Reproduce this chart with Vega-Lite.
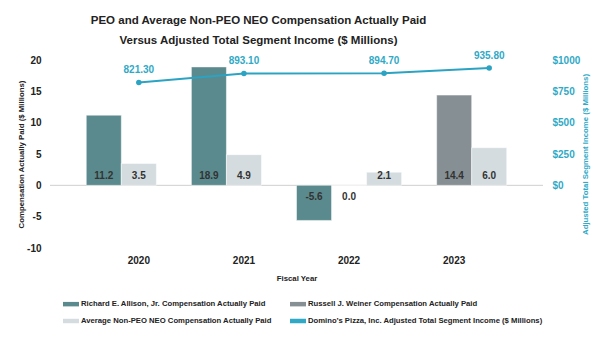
{
  "$schema": "https://vega.github.io/schema/vega-lite/v6.json",
  "width": 493,
  "height": 188,
  "autosize": {"type": "none"},
  "padding": {"left": 50, "top": 60, "right": 66, "bottom": 90},
  "background": "white",
  "title": {
    "text": ["PEO and Average Non-PEO NEO Compensation Actually Paid", "Versus Adjusted Total Segment Income ($ Millions)"],
    "font": "Liberation Sans Narrow, Liberation Sans",
    "fontSize": 11.5,
    "fontWeight": "bold",
    "color": "#222222",
    "anchor": "middle",
    "dx": -38,
    "offset": 5,
    "lineHeight": 20
  },
  "data": {
    "values": [
      {"year": "2020", "series": "Richard E. Allison, Jr. Compensation Actually Paid", "value": 11.2},
      {"year": "2020", "series": "Average Non-PEO NEO Compensation Actually Paid", "value": 3.5},
      {"year": "2020", "series": "Domino’s Pizza, Inc. Adjusted Total Segment Income ($ Millions)", "value": 821.3},
      {"year": "2021", "series": "Richard E. Allison, Jr. Compensation Actually Paid", "value": 18.9},
      {"year": "2021", "series": "Average Non-PEO NEO Compensation Actually Paid", "value": 4.9},
      {"year": "2021", "series": "Domino’s Pizza, Inc. Adjusted Total Segment Income ($ Millions)", "value": 893.1},
      {"year": "2022", "series": "Richard E. Allison, Jr. Compensation Actually Paid", "value": -5.6},
      {"year": "2022", "series": "Russell J. Weiner Compensation Actually Paid", "value": 0.0},
      {"year": "2022", "series": "Average Non-PEO NEO Compensation Actually Paid", "value": 2.1},
      {"year": "2022", "series": "Domino’s Pizza, Inc. Adjusted Total Segment Income ($ Millions)", "value": 894.7},
      {"year": "2023", "series": "Richard E. Allison, Jr. Compensation Actually Paid", "value": null},
      {"year": "2023", "series": "Russell J. Weiner Compensation Actually Paid", "value": 14.4},
      {"year": "2023", "series": "Average Non-PEO NEO Compensation Actually Paid", "value": 6.0},
      {"year": "2023", "series": "Domino’s Pizza, Inc. Adjusted Total Segment Income ($ Millions)", "value": 935.8}
    ]
  },
  "transform": [
    {"window": [{"op": "row_number", "as": "slot"}], "groupby": ["year"]},
    {"window": [{"op": "lag", "field": "slot", "as": "prevslot"}], "groupby": ["year"]}
  ],
  "layer": [
    {
      "layer": [
        {
          "data": {"values": [{}]},
          "mark": {"type": "rule", "color": "#cfcfcf", "strokeWidth": 1},
          "encoding": {"y": {"datum": 0, "type": "quantitative",
            "scale": {"domain": [-10, 20], "nice": false, "zero": false},
            "axis": {"title": "Compensation Actually Paid ($ Millions)", "values": [-10, -5, 0, 5, 10, 15, 20], "labelOverlap": false, "labelPadding": 9, "titlePadding": 1}}}
        },
        {
          "transform": [
            {"filter": {"field": "series", "oneOf": ["Richard E. Allison, Jr. Compensation Actually Paid", "Russell J. Weiner Compensation Actually Paid", "Average Non-PEO NEO Compensation Actually Paid"]}},
            {"filter": "isValid(datum.value)"}
          ],
          "mark": {"type": "bar", "stroke": "white", "strokeWidth": 0.5},
          "encoding": {
            "x": {"field": "year", "type": "nominal", "scale": {"paddingInner": 0, "paddingOuter": 0.345},
              "axis": {"title": "Fiscal Year", "labelAngle": 0, "labelPadding": 7, "titlePadding": 9}},
            "xOffset": {"field": "slot", "type": "ordinal", "scale": {"domain": [1, 2, 3], "paddingInner": 0, "paddingOuter": 0}},
            "y": {"field": "value", "type": "quantitative",
              "scale": {"domain": [-10, 20], "nice": false, "zero": false},
              "axis": {"title": "Compensation Actually Paid ($ Millions)", "values": [-10, -5, 0, 5, 10, 15, 20], "labelOverlap": false, "labelPadding": 9, "titlePadding": 1}},
            "color": {"field": "series", "type": "nominal",
              "scale": {
                "domain": ["Richard E. Allison, Jr. Compensation Actually Paid", "Average Non-PEO NEO Compensation Actually Paid", "Russell J. Weiner Compensation Actually Paid", "Domino’s Pizza, Inc. Adjusted Total Segment Income ($ Millions)"],
                "range": ["#5A8A8D", "#D4DCDF", "#868F93", "#2FA9C6"]
              },
              "legend": {
                "title": null,
                "orient": "none",
                "legendX": 13,
                "legendY": 236,
                "columns": 2,
                "columnPadding": 18,
                "rowPadding": 5,
                "labelFont": "Liberation Sans Narrow, Liberation Sans",
                "labelFontWeight": "bold",
                "labelFontSize": 7.7,
                "labelColor": "#222222",
                "labelLimit": 300,
                "labelOffset": 2,
                "symbolSize": 256,
                "symbolType": "M-1,-0.28H1V0.28H-1Z",
                "symbolStrokeWidth": 0,
                "encode": {
                  "symbols": {
                    "update": {
                      "shape": [
                        {"test": "indexof(datum.value, 'Pizza') >= 0", "value": "M-1,-0.09H1V0.09H-1Z M-0.32,0A0.32,0.32 0 1,1 0.32,0A0.32,0.32 0 1,1 -0.32,0Z"},
                        {"value": "M-1,-0.28H1V0.28H-1Z"}
                      ]
                    }
                  }
                }
              }
            }
          }
        },
        {
          "transform": [
            {"filter": {"field": "series", "oneOf": ["Richard E. Allison, Jr. Compensation Actually Paid", "Russell J. Weiner Compensation Actually Paid", "Average Non-PEO NEO Compensation Actually Paid"]}},
            {"filter": "isValid(datum.value) && datum.value > 0"}
          ],
          "mark": {"type": "text", "font": "Liberation Sans", "fontWeight": "bold", "fontSize": 10, "color": "#333333", "baseline": "middle", "dy": -9},
          "encoding": {
            "x": {"field": "year", "type": "nominal"},
            "xOffset": {"field": "slot", "type": "ordinal"},
            "y": {"datum": 0, "type": "quantitative",
              "axis": {"title": "Compensation Actually Paid ($ Millions)", "values": [-10, -5, 0, 5, 10, 15, 20], "labelOverlap": false, "labelPadding": 9, "titlePadding": 1}},
            "text": {"field": "value", "type": "quantitative", "format": ".1f"}
          }
        },
        {
          "transform": [
            {"filter": {"field": "series", "oneOf": ["Richard E. Allison, Jr. Compensation Actually Paid", "Russell J. Weiner Compensation Actually Paid", "Average Non-PEO NEO Compensation Actually Paid"]}},
            {"filter": "isValid(datum.value) && datum.value <= 0"}
          ],
          "mark": {"type": "text", "font": "Liberation Sans", "fontWeight": "bold", "fontSize": 10, "color": "#333333", "baseline": "middle", "dy": 12},
          "encoding": {
            "x": {"field": "year", "type": "nominal"},
            "xOffset": {"field": "slot", "type": "ordinal"},
            "y": {"datum": 0, "type": "quantitative",
              "axis": {"title": "Compensation Actually Paid ($ Millions)", "values": [-10, -5, 0, 5, 10, 15, 20], "labelOverlap": false, "labelPadding": 9, "titlePadding": 1}},
            "text": {"field": "value", "type": "quantitative", "format": ".1f"}
          }
        }
      ]
    },
    {
      "transform": [
        {"filter": {"field": "series", "equal": "Domino’s Pizza, Inc. Adjusted Total Segment Income ($ Millions)"}}
      ],
      "encoding": {
        "x": {"field": "year", "type": "nominal"},
        "xOffset": {"field": "prevslot", "type": "ordinal"},
        "y": {"field": "value", "type": "quantitative",
          "scale": {"domain": [-500, 1000], "nice": false, "zero": false},
          "axis": {"orient": "right", "title": "Adjusted Total Segment Income ($ Millions)", "values": [0, 250, 500, 750, 1000],
            "labelExpr": "'$' + datum.value", "labelOverlap": false, "labelColor": "#2FA9C6", "titleColor": "#2FA9C6", "titleAngle": 270, "labelPadding": 9, "titlePadding": 10}}
      },
      "layer": [
        {
          "mark": {"type": "line", "color": "#2BA3C2", "strokeWidth": 2,
            "point": {"filled": true, "size": 30, "color": "#2BA3C2"}}
        },
        {
          "mark": {"type": "text", "font": "Liberation Sans", "fontWeight": "bold", "fontSize": 10, "color": "#2FA9C6", "baseline": "middle", "dy": -12},
          "encoding": {"text": {"field": "value", "type": "quantitative", "format": ".2f"}}
        }
      ]
    }
  ],
  "resolve": {"scale": {"y": "independent"}},
  "config": {
    "locale": {"number": {"decimal": ".", "thousands": ",", "grouping": [3], "currency": ["$", ""], "minus": "-"}},
    "view": {"stroke": null},
    "axis": {
      "labelFont": "Liberation Sans",
      "labelFontWeight": "bold",
      "labelFontSize": 10,
      "labelColor": "#222222",
      "titleFont": "Liberation Sans Narrow, Liberation Sans",
      "titleFontWeight": "bold",
      "titleFontSize": 7.8,
      "titleColor": "#222222",
      "grid": false,
      "domain": false,
      "ticks": false
    }
  }
}
